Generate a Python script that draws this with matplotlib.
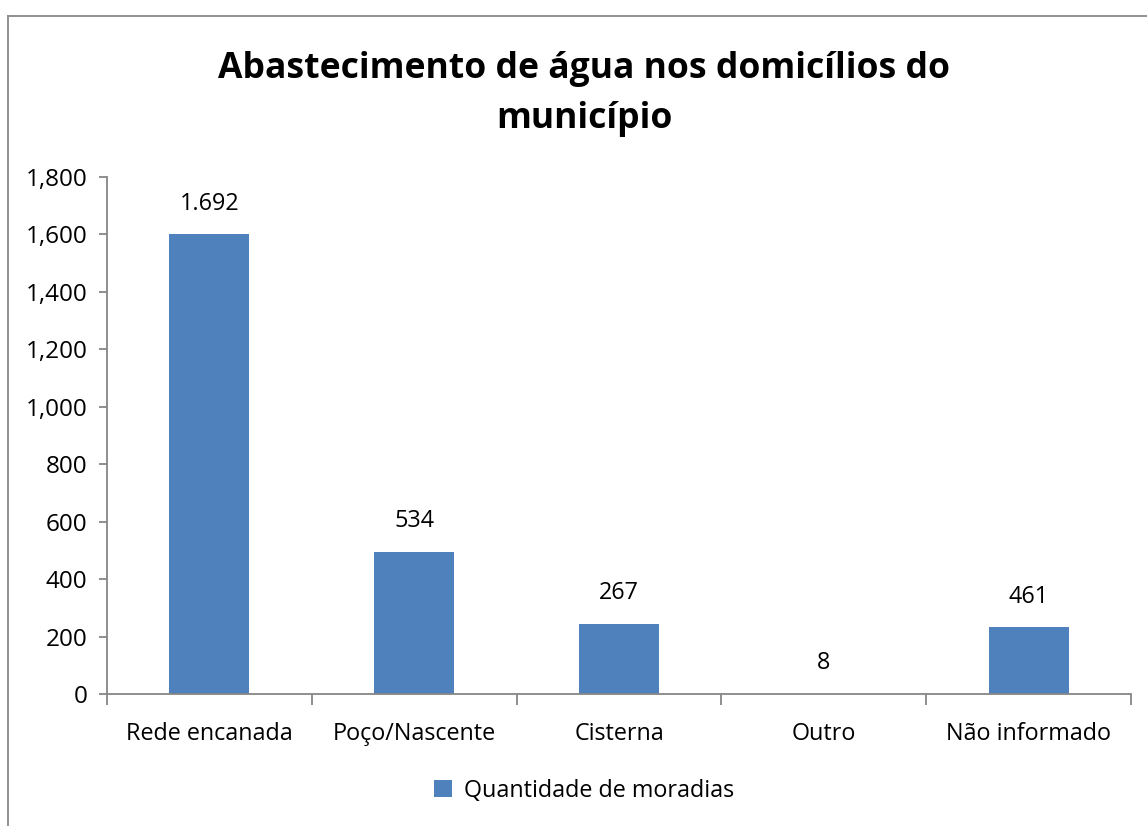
import matplotlib
matplotlib.use("Agg")
import matplotlib.pyplot as plt
from matplotlib.lines import Line2D

# data
categorias = ["Rede encanada", "Poço/Nascente", "Cisterna", "Outro", "Não informado"]
alturas = [1600, 495, 244, 0, 233]
rotulos = ["1.692", "534", "267", "8", "461"]
serie = "Quantidade de moradias"
titulo = "Abastecimento de água nos domicílios do\nmunicípio"

plt.rcParams['font.family'] = ['Open Sans', 'DejaVu Sans']
cor_barra = "#4f81bd"
cor_eixo = "#868686"
fs = 16.8

fig = plt.figure(figsize=(11.47, 8.26), dpi=100)
ax = fig.add_axes([107/1147, 1 - 694/826, (1131 - 107)/1147, (694 - 177)/826])

x = list(range(len(categorias)))
barras = ax.bar(x, alturas, width=0.39, color=cor_barra, label=serie, zorder=2)

for xi, h, r in zip(x, alturas, rotulos):
    ax.annotate(r, (xi, h), xytext=(0, 22), textcoords="offset points",
                ha="center", va="center", fontsize=fs)

ax.set_xlim(-0.5, len(categorias) - 0.5)
ax.set_ylim(0, 1800)
ax.set_yticks(range(0, 1801, 200))
ax.set_yticklabels([f"{v:,}" for v in range(0, 1801, 200)], fontsize=17.5)
ax.set_xticks(x)
ax.set_xticklabels(categorias, fontsize=fs)
ax.set_xticks([i - 0.5 for i in range(len(categorias) + 1)], minor=True)
ax.tick_params(axis="x", which="major", length=0, pad=20)
ax.tick_params(axis="x", which="minor", length=8, color=cor_eixo, width=1.3)
ax.tick_params(axis="y", length=6, color=cor_eixo, width=1.3, pad=8)

for s in ["top", "right"]:
    ax.spines[s].set_visible(False)
for s in ["left", "bottom"]:
    ax.spines[s].set_color(cor_eixo)
    ax.spines[s].set_linewidth(1.3)

fig.text(584/1147, 1 - 94/826, titulo, ha="center", va="center",
         fontsize=25.6, fontweight="bold", linespacing=1.5)

fig.legend(handles=[barras], labels=[serie], loc="center",
           bbox_to_anchor=(584/1147, 1 - 791/826), frameon=False,
           fontsize=fs, handlelength=0.75, handleheight=0.75, handletextpad=0.5)

# chart frame (runs off the right and bottom edges)
fig.add_artist(Line2D([8/1147, 8/1147], [0, 1 - 16/826], color="#898989", lw=1.3,
                      transform=fig.transFigure))
fig.add_artist(Line2D([8/1147, 1], [1 - 16/826, 1 - 16/826], color="#898989", lw=1.3,
                      transform=fig.transFigure))

fig.savefig("out.png", dpi=100)
